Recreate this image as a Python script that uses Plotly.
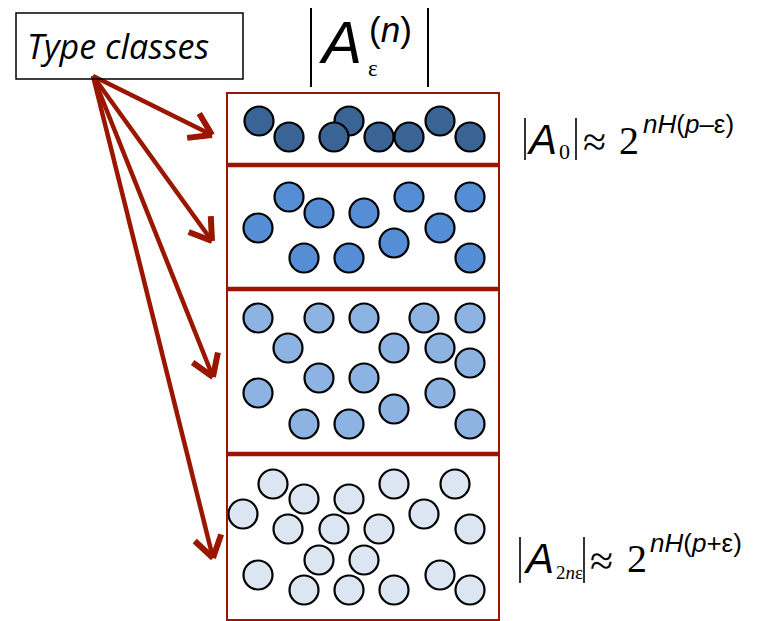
import math
import plotly.graph_objects as go

# ---- data ----
panel_names = ["A0", "A1", "A2", "A2ne"]
panel_colors = ["#3A6494", "#558ED5", "#8DB3E2", "#DCE6F2"]

p1_x = [259, 289, 349, 334, 379, 409, 440, 470]
p1_y = [121, 137, 121, 137, 137, 137, 121, 137]

p2_x = [258, 289, 319, 364, 409, 470, 440, 394, 304, 349, 470]
p2_y = [228, 197, 213, 213, 197, 197, 228, 243, 258, 258, 258]

p3_x = [258, 319, 364, 424, 470, 288, 394, 440, 470, 319, 364, 258, 440, 394, 304, 349, 470]
p3_y = [318, 318, 318, 318, 318, 348, 348, 348, 363, 378, 378, 393, 393, 409, 424, 424, 424]

p4_x = [273, 304, 349, 394, 455, 243, 424, 288, 334, 379, 470, 319, 364, 258, 440, 304, 349, 394, 470]
p4_y = [484, 499, 499, 484, 484, 514, 514, 529, 529, 529, 529, 560, 560, 575, 575, 590, 590, 590, 590]

arrow_origin = (93, 76)
arrow_tips_x = [212, 212, 213, 213]
arrow_tips_y = [135, 241, 377, 558]

divider_y = [165, 289, 454]

RED = "#991600"
PAGE_OFF = 8  # default body margin of the page

fig = go.Figure()

# arrows
lx, ly = [], []
hx, hy = [], []
for tx, ty in zip(arrow_tips_x, arrow_tips_y):
    ox, oy = arrow_origin
    lx += [ox, tx, None]
    ly += [oy, ty, None]
    ang = math.atan2(ty - oy, tx - ox)
    L = 25
    for d in (math.radians(33), -math.radians(33)):
        a = ang + math.pi + d
        hx += [tx + L * math.cos(a), tx, None]
        hy += [ty + L * math.sin(a), ty, None]
fig.add_trace(go.Scatter(x=lx, y=ly, mode="lines", line=dict(color=RED, width=4.5),
                         hoverinfo="skip", showlegend=False))
fig.add_trace(go.Scatter(x=hx, y=hy, mode="lines", line=dict(color=RED, width=6),
                         hoverinfo="skip", showlegend=False))

# circles
for xs, ys, c, n in zip([p1_x, p2_x, p3_x, p4_x], [p1_y, p2_y, p3_y, p4_y], panel_colors, panel_names):
    fig.add_trace(go.Scatter(x=xs, y=ys, mode="markers", name=n,
                             marker=dict(size=29, color=c, line=dict(color="black", width=2.2)),
                             hoverinfo="skip", showlegend=False))

shapes = []
shapes.append(dict(type="rect", x0=227, x1=499, y0=93, y1=620, xref="x", yref="y",
                   line=dict(color=RED, width=2)))
for dy in divider_y:
    shapes.append(dict(type="line", x0=227, x1=499, y0=dy, y1=dy, xref="x", yref="y",
                       line=dict(color=RED, width=4.5)))
shapes.append(dict(type="rect", x0=16, x1=243, y0=13, y1=79, xref="x", yref="y",
                   line=dict(color="black", width=1.5)))
for bx in (311, 428):
    shapes.append(dict(type="line", x0=bx, x1=bx, y0=8, y1=87, xref="x", yref="y",
                       line=dict(color="black", width=2)))
for bx, y0, y1 in ((525, 118, 160), (576, 118, 160), (520, 537, 583), (584, 537, 583)):
    shapes.append(dict(type="line", x0=bx, x1=bx, y0=y0, y1=y1, xref="x", yref="y",
                       line=dict(color="black", width=1.6)))

SANS = "Liberation Sans"
SERIF = "Liberation Serif"

def ann(text, x, y, size, family=SANS, xa="left", ya="middle"):
    return dict(text=text, x=x, y=y, xref="x", yref="y", showarrow=False,
                xanchor=xa, yanchor=ya, font=dict(family=family, size=size, color="black"),
                borderpad=0)

annotations = [
    ann("<i>Type classes</i>", 26, 46, 34, family="Open Sans"),
    ann("<i>A</i>", 318, 42, 60),
    ann("(<i>n</i>)", 368, 29, 35),
    ann("ε", 367, 68, 23, family=SERIF),
    # formula 1
    ann("<i>A</i>", 525, 139, 42),
    ann("0", 558, 151, 22, family=SERIF),
    ann("≈", 582, 142, 42, family=SERIF),
    ann("2", 618, 140, 40, family=SERIF),
    ann("<i>nH</i>(<i>p</i>–ε)", 642, 124, 26),
    # formula 2
    ann("<i>A</i>", 522, 558, 42),
    ann("2<i>n</i>ε", 555, 572, 19, family=SERIF),
    ann("≈", 589, 561, 42, family=SERIF),
    ann("2", 626, 558, 40, family=SERIF),
    ann("<i>nH</i>(<i>p</i>+ε)", 649, 543, 26),
]

fig.update_layout(
    width=763 - PAGE_OFF, height=621 - PAGE_OFF, margin=dict(l=0, r=0, t=0, b=0),
    paper_bgcolor="white", plot_bgcolor="white",
    xaxis=dict(range=[PAGE_OFF, 763], visible=False, fixedrange=True),
    yaxis=dict(range=[621, PAGE_OFF], visible=False, fixedrange=True),
    shapes=shapes, annotations=annotations, showlegend=False,
)
fig.write_html("out.html")
